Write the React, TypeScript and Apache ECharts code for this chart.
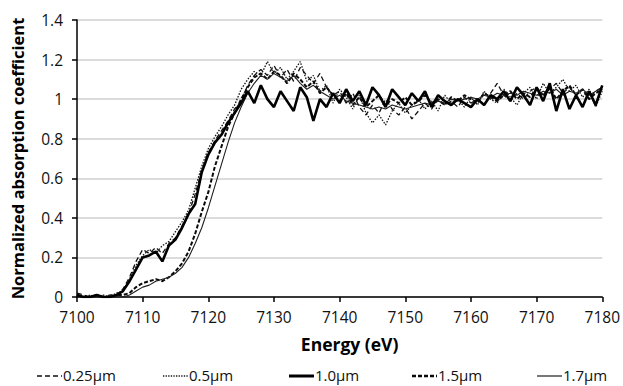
import React, { useEffect, useRef } from "react";
import * as echarts from "echarts";

const energies: number[] = [];
for (let e = 7100; e <= 7180; e++) energies.push(e);

const s025 = [
  0.02, 0.01, 0.00, 0.01, 0.00, 0.01, 0.01, 0.04, 0.10, 0.18,
  0.24, 0.22, 0.25, 0.22, 0.27, 0.30, 0.36, 0.42, 0.52, 0.64,
  0.73, 0.79, 0.84, 0.89, 0.95, 0.99, 1.07, 1.12, 1.15, 1.12,
  1.17, 1.11, 1.15, 1.09, 1.16, 1.12, 1.08, 1.13, 1.06, 1.02,
  1.04, 0.98, 1.03, 0.96, 0.92, 0.97, 0.93, 1.00, 0.95, 0.92,
  0.96, 0.90, 0.94, 0.98, 0.95, 1.00, 0.97, 0.99, 0.96, 1.01,
  0.98, 1.00, 0.97, 1.03, 1.08, 1.02, 0.99, 1.03, 1.00, 1.04,
  1.06, 1.02, 1.05, 1.08, 1.03, 1.06, 1.02, 1.05, 1.01, 1.04, 1.06,
];
const s05 = [
  0.01, 0.00, 0.01, 0.00, 0.01, 0.00, 0.02, 0.03, 0.09, 0.16,
  0.21, 0.24, 0.22, 0.26, 0.28, 0.33, 0.38, 0.44, 0.55, 0.66,
  0.75, 0.81, 0.86, 0.92, 0.97, 1.05, 1.10, 1.14, 1.12, 1.19,
  1.13, 1.16, 1.10, 1.14, 1.19, 1.09, 1.12, 1.04, 1.07, 0.98,
  1.05, 1.01, 0.95, 1.02, 0.93, 0.88, 0.92, 0.87, 0.94, 0.98,
  0.93, 0.97, 1.00, 0.95, 0.99, 0.94, 1.02, 0.98, 1.00, 0.96,
  1.01, 0.97, 1.04, 1.00, 0.98, 1.05, 1.01, 0.97, 1.03, 1.06,
  1.00, 1.08, 1.03, 1.06, 1.10, 1.04, 1.07, 1.01, 1.05, 0.96, 1.04,
];
const s10 = [
  0.01, 0.00, 0.00, 0.01, 0.00, 0.00, 0.01, 0.03, 0.08, 0.14,
  0.20, 0.21, 0.23, 0.18, 0.26, 0.29, 0.35, 0.42, 0.47, 0.63,
  0.72, 0.78, 0.82, 0.88, 0.93, 0.98, 1.04, 0.98, 1.07, 1.00,
  0.96, 1.04, 0.99, 0.94, 1.06, 1.01, 0.89, 1.00, 0.96, 1.03,
  0.98, 1.05, 0.99, 1.04, 0.97, 1.06, 1.02, 0.96, 1.05, 1.01,
  0.97, 1.03, 0.99, 1.04, 0.96, 1.02, 0.99, 0.97, 1.00, 0.98,
  0.96, 1.00, 0.97, 1.02, 1.00, 1.04, 0.99, 1.06, 1.02, 0.97,
  1.06, 0.99, 1.08, 0.94, 1.05, 0.95, 1.02, 0.96, 1.04, 0.97, 1.07,
];
const s15 = [
  0.01, 0.00, 0.00, 0.01, 0.00, 0.00, 0.01, 0.01, 0.02, 0.05,
  0.07, 0.08, 0.09, 0.08, 0.10, 0.13, 0.17, 0.23, 0.32, 0.43,
  0.53, 0.66, 0.76, 0.86, 0.93, 1.00, 1.06, 1.11, 1.13, 1.10,
  1.14, 1.12, 1.08, 1.13, 1.10, 1.06, 1.09, 1.03, 1.06, 1.02,
  0.99, 1.03, 0.97, 1.01, 0.96, 0.99, 1.02, 0.97, 1.00, 0.98,
  1.01, 0.97, 0.99, 1.02, 0.98, 1.00, 0.97, 1.01, 0.99, 1.02,
  1.00, 0.98, 1.03, 1.01, 0.99, 1.02, 1.04, 1.00, 1.03, 1.01,
  1.05, 1.02, 1.06, 1.00, 1.04, 1.07, 1.02, 1.05, 1.00, 1.03, 1.05,
];
const s17 = [
  0.00, 0.00, 0.00, 0.00, 0.00, 0.00, 0.00, 0.00, 0.01, 0.03,
  0.05, 0.06, 0.08, 0.09, 0.10, 0.12, 0.15, 0.20, 0.27, 0.35,
  0.45, 0.56, 0.67, 0.78, 0.88, 0.96, 1.03, 1.08, 1.12, 1.10,
  1.13, 1.11, 1.09, 1.12, 1.08, 1.05, 1.07, 1.04, 1.02, 1.00,
  1.02, 0.99, 0.98, 0.97, 0.96, 0.95, 0.96, 0.95, 0.97, 0.96,
  0.95, 0.96, 0.97, 0.98, 0.97, 0.99, 0.98, 1.00, 0.99, 1.00,
  1.01, 1.00, 1.02, 1.01, 1.03, 1.02, 1.03, 1.02, 1.04, 1.03,
  1.02, 1.04, 1.03, 1.05, 1.02, 1.04, 1.03, 1.05, 1.02, 1.04, 1.06,
];

const seriesNames = ["0.25µm", "0.5µm", "1.0µm", "1.5µm", "1.7µm"];
const FONT = "Open Sans";

export default function App() {
  const ref = useRef<HTMLDivElement>(null);
  useEffect(() => {
    if (!ref.current) return;
    const chart = echarts.init(ref.current, undefined, { renderer: "svg" });
    const pair = (vals: number[]) => energies.map((e, i) => [e, vals[i]]);
    const styles = [
      { color: "#111111", width: 1.3, dash: [5, 3] },
      { color: "#111111", width: 1.3, dash: [1.5, 1.5] },
      { color: "#000000", width: 2.6, dash: null },
      { color: "#0a0a0a", width: 2, dash: [4, 2] },
      { color: "#1f1f1f", width: 1.1, dash: null },
    ];
    const legendStyles = [
      { width: 1.3, dash: [5, 3] },
      { width: 1.3, dash: [1.3, 1.3] },
      { width: 3, dash: null },
      { width: 2.5, dash: [4, 2] },
      { width: 1.2, dash: null },
    ];
    const datas = [s025, s05, s10, s15, s17];
    const legendStarts = [37, 163, 289, 412, 537];
    const legendY = 375;
    const legendGraphics: any[] = [];
    seriesNames.forEach((name, i) => {
      const x0 = legendStarts[i];
      const ls: any = {
        stroke: styles[i].color,
        lineWidth: legendStyles[i].width,
      };
      if (legendStyles[i].dash) ls.lineDash = legendStyles[i].dash;
      legendGraphics.push({
        type: "line",
        shape: { x1: x0, y1: legendY + 1, x2: x0 + 25, y2: legendY + 1 },
        style: ls,
      });
      legendGraphics.push({
        type: "text",
        x: x0 + 26,
        y: legendY,
        style: {
          text: name,
          fontFamily: FONT,
          fontSize: 15,
          fill: "#111",
          verticalAlign: "middle",
          align: "left",
        },
      });
    });

    chart.setOption({
      animation: false,
      textStyle: { fontFamily: FONT },
      grid: { left: 77, right: 17, top: 20, bottom: 89, containLabel: false },
      graphic: legendGraphics,
      xAxis: {
        type: "value",
        min: 7100,
        max: 7180,
        interval: 10,
        name: "Energy (eV)",
        nameLocation: "middle",
        nameGap: 38,
        nameTextStyle: { fontFamily: FONT, fontSize: 17.5, fontWeight: "bold", color: "#000", padding: [0, 0, 0, 20] },
        axisLine: { lineStyle: { color: "#000", width: 1.5 } },
        axisTick: { show: true, length: 5, lineStyle: { color: "#000", width: 1.5 } },
        axisLabel: {
          fontFamily: FONT,
          fontSize: 15.5,
          color: "#111",
          margin: 12,
          formatter: (v: number) => String(v),
        },
        splitLine: { show: false },
      },
      yAxis: {
        type: "value",
        min: 0,
        max: 1.4,
        interval: 0.2,
        name: "Normalized absorption coefficient",
        nameLocation: "middle",
        nameGap: 51,
        nameTextStyle: { fontFamily: FONT, fontSize: 16.5, fontWeight: "bold", color: "#000" },
        axisLine: { show: true, lineStyle: { color: "#000", width: 1.5 } },
        axisTick: { show: true, length: 5, lineStyle: { color: "#000", width: 1.5 } },
        axisLabel: { fontFamily: FONT, fontSize: 15.5, color: "#111", margin: 14 },
        splitLine: { show: true, lineStyle: { color: "#cfcfcf", width: 1.5 } },
      },
      series: seriesNames.map((name, i) => ({
        name,
        type: "line",
        data: pair(datas[i]),
        symbol: "none",
        showSymbol: false,
        lineStyle: {
          color: styles[i].color,
          width: styles[i].width,
          type: styles[i].dash ? styles[i].dash : "solid",
        },
        itemStyle: { color: styles[i].color },
        z: i === 2 ? 5 : 3,
      })),
    });
    return () => chart.dispose();
  }, []);
  return <div ref={ref} style={{ width: 623, height: 386, position: "absolute", left: 0, top: 0 }} />;
}
